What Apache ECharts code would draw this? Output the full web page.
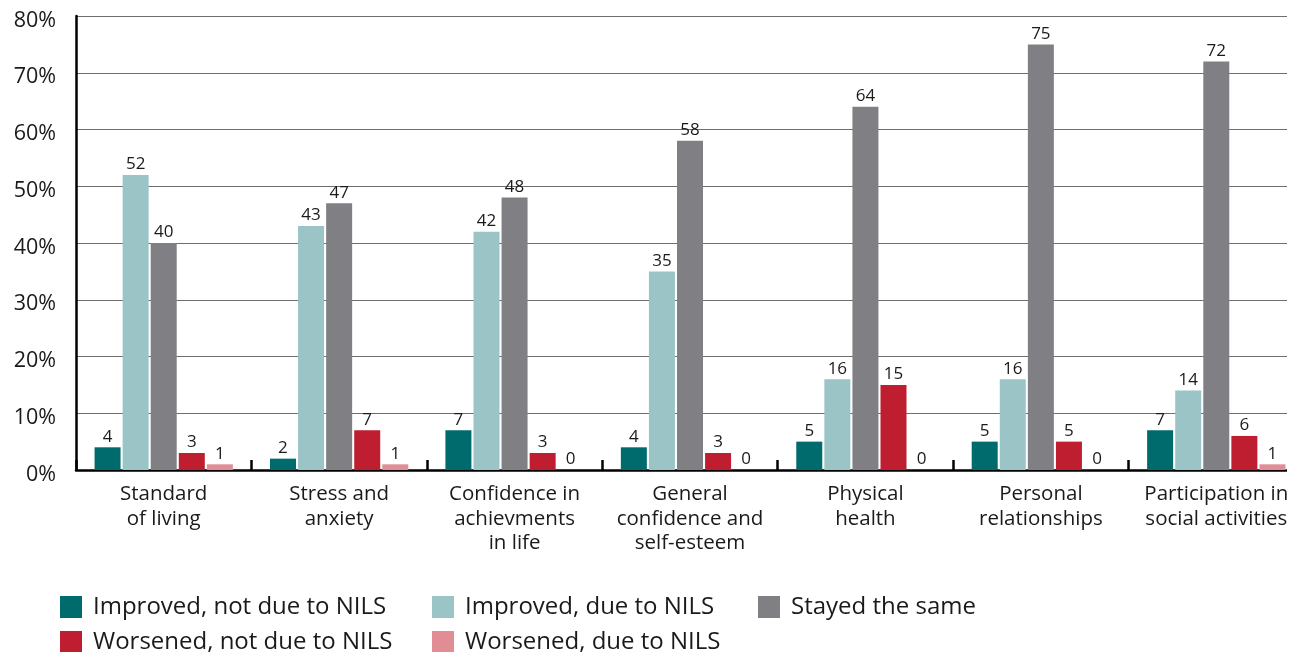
<!DOCTYPE html>
<html>
<head>
<meta charset="utf-8">
<script src="https://cdn.jsdelivr.net/npm/echarts@6/dist/echarts.min.js"></script>
<style>
  html, body { margin: 0; padding: 0; background: #fff; }
  #chart { width: 1287px; height: 652px; }
</style>
</head>
<body>
<div id="chart"></div>
<script>
// categories along the x axis
const categories = [
  'Standard\nof living',
  'Stress and\nanxiety',
  'Confidence in\nachievments\nin life',
  'General\nconfidence and\nself-esteem',
  'Physical\nhealth',
  'Personal\nrelationships',
  'Participation in\nsocial activities'
]

// percentages per series
const improvedNotNils = [4, 2, 7, 4, 5, 5, 7]
const improvedNils = [52, 43, 42, 35, 16, 16, 14]
const stayedSame = [40, 47, 48, 58, 64, 75, 72]
const worsenedNotNils = [3, 7, 3, 3, 15, 5, 6]
const worsenedNils = [1, 1, 0, 0, 0, 0, 1]

const yTicks = { min: 0, max: 80, interval: 10 }

const font = 'Open Sans'
const textColor = '#1a1a1a'

function bar (name, data, color) {
  return {
    name: name,
    type: 'bar',
    data: data,
    barWidth: 26,
    barGap: '8%',
    itemStyle: { color: color },
    label: {
      show: true,
      position: 'top',
      distance: 2,
      color: textColor,
      fontFamily: font,
      fontSize: 17
    }
  }
}

// one legend per entry so the two rows line up like the original
function legendItem (left, top, name) {
  return {
    left: left,
    top: top,
    padding: 0,
    itemWidth: 22,
    itemHeight: 22,
    itemGap: 0,
    icon: 'rect',
    textStyle: { fontFamily: font, fontSize: 24, color: textColor, padding: [0, 0, 0, 6] },
    data: [name]
  }
}

const chart = echarts.init(document.getElementById('chart'))
chart.setOption({
  animation: false,
  legend: [
    legendItem(60, 595, 'Improved, not due to NILS'),
    legendItem(432, 595, 'Improved, due to NILS'),
    legendItem(758, 595, 'Stayed the same'),
    legendItem(60, 630, 'Worsened, not due to NILS'),
    legendItem(432, 630, 'Worsened, due to NILS')
  ],
  grid: { left: 76, top: 16, width: 1228, bottom: 182, outerBoundsMode: 'none' },
  xAxis: {
    type: 'category',
    data: categories,
    axisLine: { lineStyle: { color: '#000', width: 2.5 } },
    axisTick: { show: true, inside: true, length: 10, lineStyle: { color: '#000', width: 2.5 } },
    axisLabel: {
      interval: 0,
      margin: 12,
      color: textColor,
      fontFamily: font,
      fontSize: 20.5,
      lineHeight: 24.5
    }
  },
  yAxis: {
    type: 'value',
    min: yTicks.min,
    max: yTicks.max,
    interval: yTicks.interval,
    axisLine: { show: true, lineStyle: { color: '#000', width: 2.5 } },
    axisTick: { show: false },
    splitLine: { lineStyle: { color: '#6e6e6e', width: 1.2 } },
    axisLabel: {
      formatter: '{value}%',
      margin: 20,
      verticalAlign: 'top',
      lineHeight: 9,
      color: textColor,
      fontFamily: font,
      fontSize: 21.5
    }
  },
  series: [
    bar('Improved, not due to NILS', improvedNotNils, '#006b6d'),
    bar('Improved, due to NILS', improvedNils, '#9ac4c5'),
    bar('Stayed the same', stayedSame, '#808084'),
    bar('Worsened, not due to NILS', worsenedNotNils, '#be1e2f'),
    bar('Worsened, due to NILS', worsenedNils, '#e08d95')
  ]
})
</script>
</body>
</html>
